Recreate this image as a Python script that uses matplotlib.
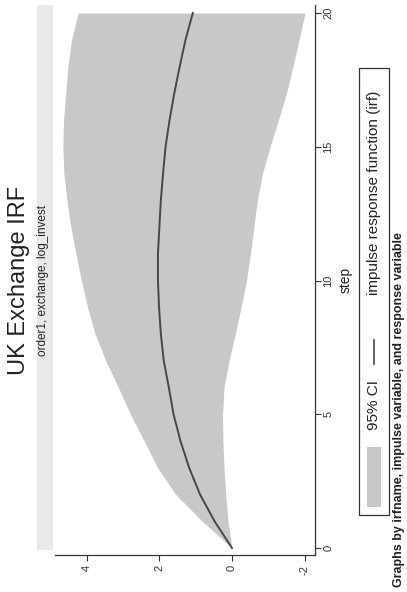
import matplotlib
matplotlib.use("Agg")
import matplotlib.pyplot as plt
from matplotlib.patches import Rectangle
from matplotlib.lines import Line2D

plt.rcParams['font.family'] = ['Liberation Sans', 'DejaVu Sans']
plt.rcParams['axes.unicode_minus'] = False

# impulse response of log_invest to exchange, order1
steps = list(range(21))
irf = [0.0, 0.48, 0.88, 1.18, 1.42, 1.61, 1.74, 1.88, 1.96, 2.01, 2.04,
       2.04, 2.00, 1.96, 1.90, 1.83, 1.72, 1.59, 1.44, 1.28, 1.08]
ci_upper = [0.0, 0.82, 1.55, 2.05, 2.42, 2.80, 3.13, 3.48, 3.77, 3.98, 4.15,
            4.30, 4.44, 4.55, 4.63, 4.66, 4.64, 4.58, 4.52, 4.42, 4.24]
ci_lower = [0.0, 0.11, 0.17, 0.22, 0.25, 0.26, 0.22, 0.08, -0.09, -0.25, -0.40,
            -0.51, -0.60, -0.70, -0.84, -1.05, -1.28, -1.50, -1.68, -1.85, -2.01]
value_ticks = [-2, 0, 2, 4]
step_ticks = [0, 5, 10, 15, 20]

W, H = 407, 592
band = '#c8c8c8'
line_col = '#474747'
ink = '#222222'


def px(x, y):
    # pixel position (from top-left) -> figure fraction
    return x / W, 1 - y / H


fig = plt.figure(figsize=(W / 100, H / 100), dpi=100)

# page is printed sideways: value runs right-to-left, step runs upward
l, t = px(55, 5)
r, b = px(315, 555)
ax = fig.add_axes([l, b, r - l, t - b])
ax.fill_betweenx(steps, ci_lower, ci_upper, color=band, lw=0)
ax.plot(irf, steps, color=line_col, lw=1.4)
ax.set_xlim(4.876, -2.287)
ax.set_ylim(-0.262, 20.3)

for side in ['top', 'left']:
    ax.spines[side].set_visible(False)
for side in ['bottom', 'right']:
    ax.spines[side].set_color('#333333')
    ax.spines[side].set_linewidth(0.9)
ax.yaxis.tick_right()
ax.set_xticks(value_ticks)
ax.set_yticks(step_ticks)
ax.tick_params(axis='x', direction='out', length=4, width=0.8, pad=3,
               labelsize=8, labelrotation=90, colors='#333333')
ax.tick_params(axis='y', direction='out', length=4, width=0.8, pad=2,
               labelsize=8, labelrotation=90, colors='#333333')
for lab in ax.get_yticklabels():
    lab.set_va('center')

# subtitle strip above the plot region
sx0, sy0 = px(37, 550)
sx1, sy1 = px(53, 5)
fig.patches.append(Rectangle((sx0, sy0), sx1 - sx0, sy1 - sy0,
                             transform=fig.transFigure, color='#e9e9e9', lw=0))
fig.text(*px(43, 280), 'order1, exchange, log_invest', rotation=90,
         ha='center', va='center', fontsize=8.5, color=ink)

fig.text(*px(19, 280), 'UK Exchange IRF', rotation=90,
         ha='center', va='center', fontsize=17, color=ink)

fig.text(*px(346, 280), 'step', rotation=90,
         ha='center', va='center', fontsize=10, color=ink)

# legend box
lx0, ly0 = px(359, 515)
lx1, ly1 = px(389, 68)
fig.patches.append(Rectangle((lx0, ly0), lx1 - lx0, ly1 - ly0,
                             transform=fig.transFigure, fill=False,
                             ec='#333333', lw=0.9))
kx0, ky0 = px(367, 507)
kx1, ky1 = px(381, 447)
fig.patches.append(Rectangle((kx0, ky0), kx1 - kx0, ky1 - ky0,
                             transform=fig.transFigure, color=band, lw=0))
fig.text(*px(374, 405), '95% CI', rotation=90,
         ha='center', va='center', fontsize=11, color=ink)
fig.lines.append(Line2D([px(374, 0)[0]] * 2, [px(0, 364)[1], px(0, 340)[1]],
                        transform=fig.transFigure, color=line_col, lw=1.2))
fig.text(*px(374, 193), 'impulse response function (irf)', rotation=90,
         ha='center', va='center', fontsize=11, color=ink)

fig.text(*px(399, 587), 'Graphs by irfname, impulse variable, and response variable',
         rotation=90, ha='center', va='bottom', fontsize=9, fontweight='bold',
         color=ink)

fig.savefig('out.png', dpi=100)
